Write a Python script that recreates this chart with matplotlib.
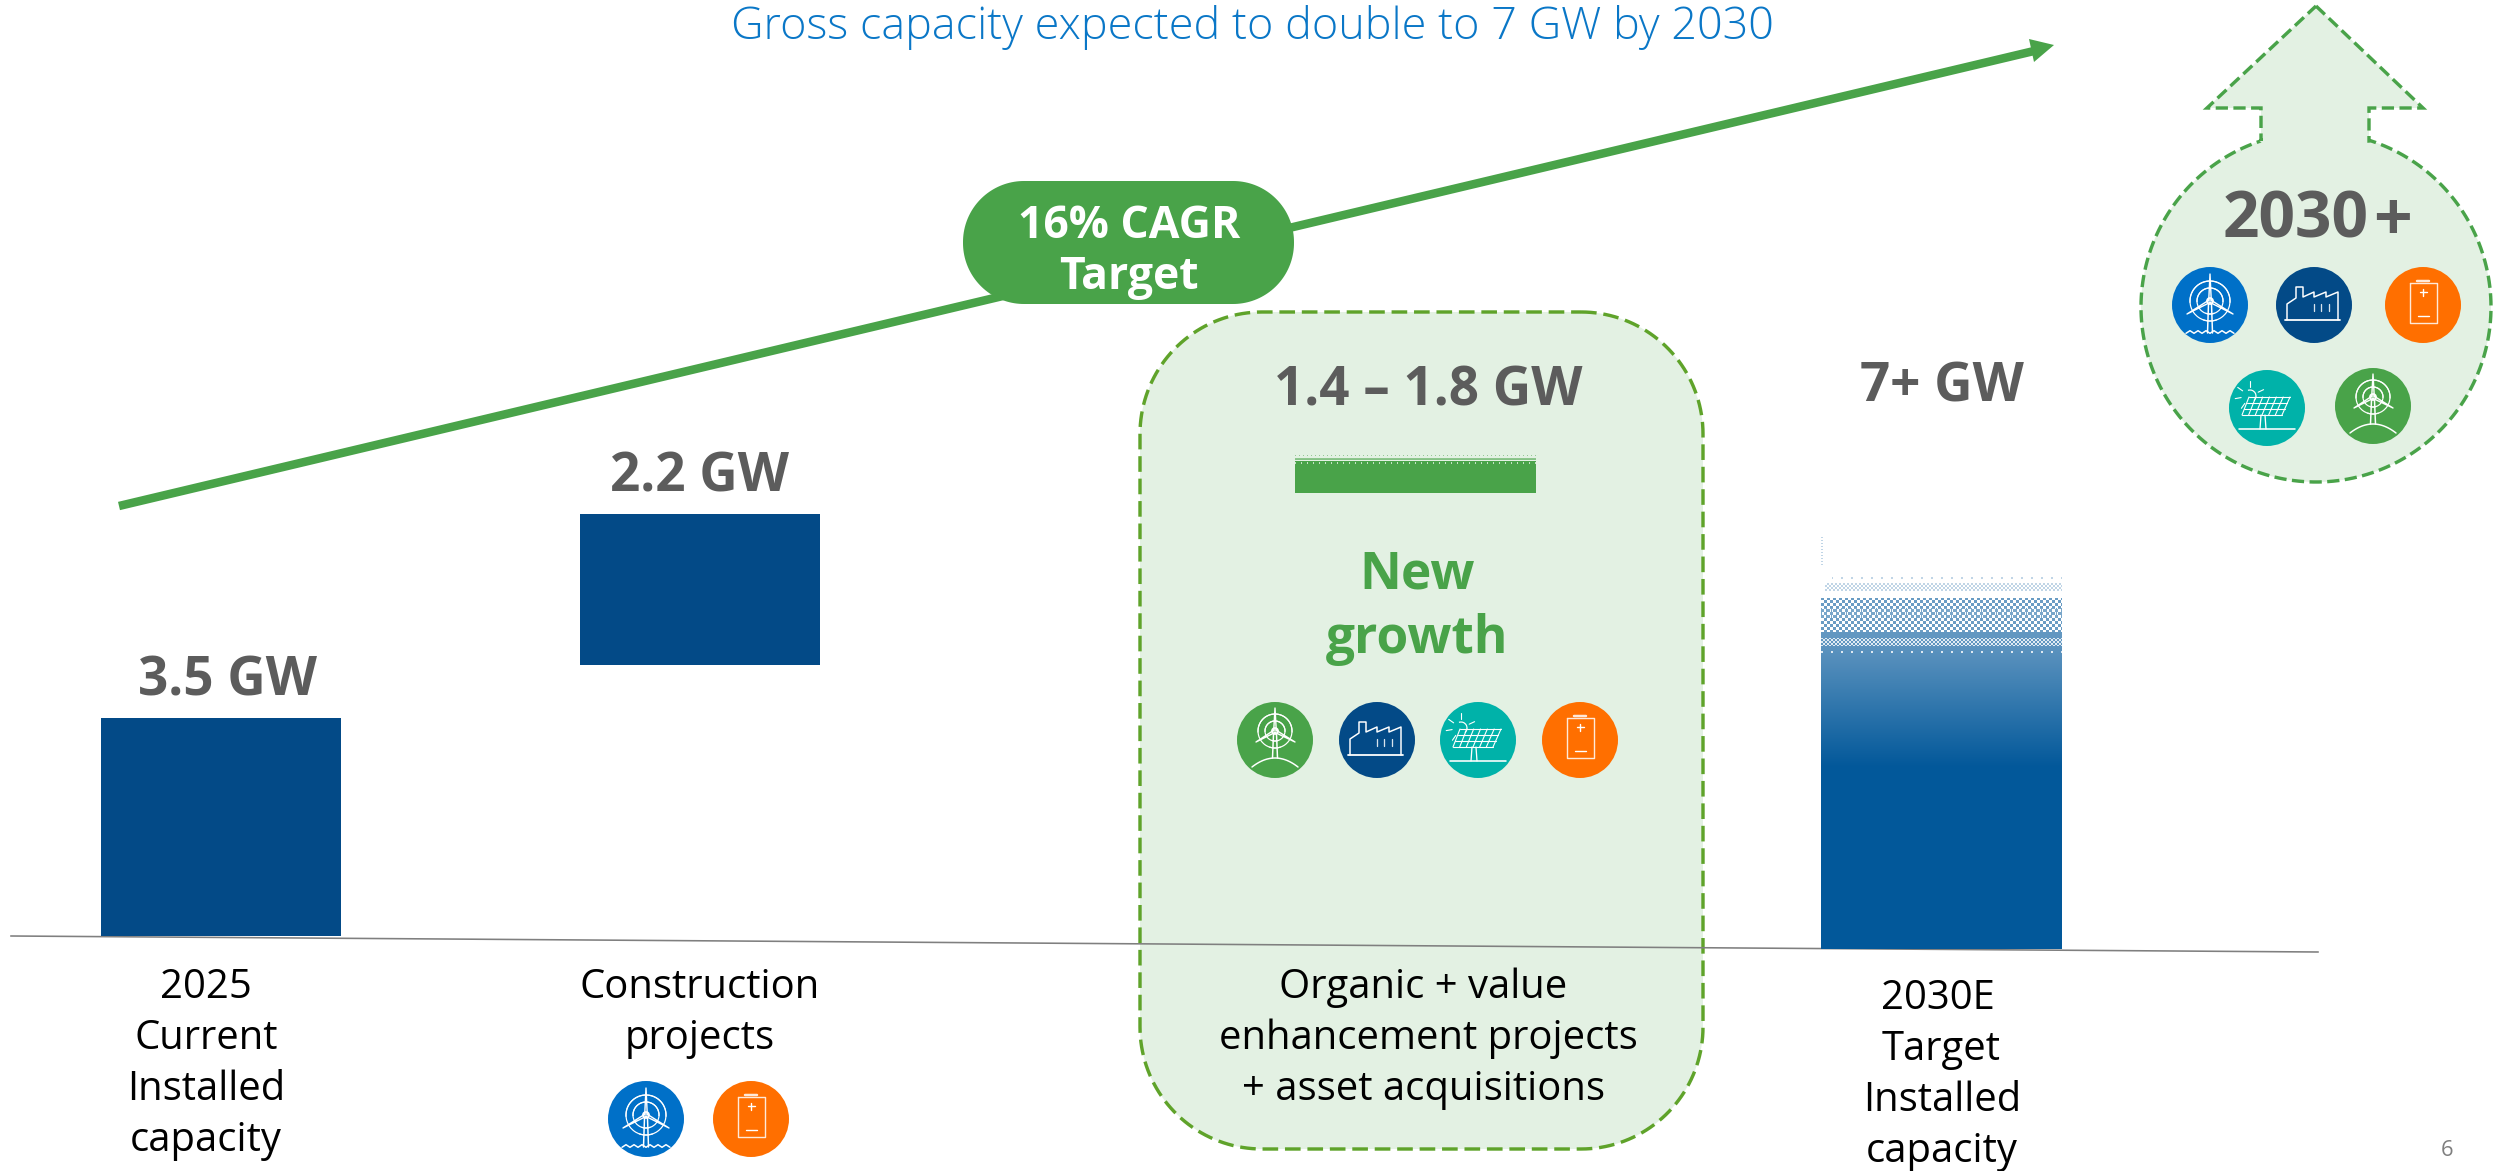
import numpy as np
import matplotlib
matplotlib.use("Agg")
import matplotlib.pyplot as plt
from matplotlib.patches import Circle, Polygon, Arc

# ---------- data ----------
bar_labels = ["3.5 GW", "2.2 GW", "1.4 – 1.8 GW", "7+ GW"]
bar_heights = [3.50, 2.42, 0.61, 6.61]     # height as drawn, GW-equivalent
bar_bottoms = [0.00, 4.35, 7.11, -0.21]    # floating start as drawn
categories = [["2025", "Current", "Installed", "capacity"],
              ["Construction", "projects"],
              ["Organic + value", "enhancement projects", "+ asset acquisitions"],
              ["2030E", "Target", "Installed", "capacity"]]
title = "Gross capacity expected to double to 7 GW by 2030"
cagr_text = ["16% CAGR", "Target"]
growth_text = ["New", "growth"]
future_text = "2030"
page_number = "6"

# ---------- style ----------
W, H = 2496, 1171
FONT = "Open Sans"
BLUE = "#034A87"; BAR4 = "#02589A"; GREEN = "#49A349"; PALE = "#E3F1E3"
GREY = "#5C5C5C"; OLIVE = "#5FA32A"
COL = dict(off="#0070C8", fac="#034A87", bat="#FF6F00", sol="#00B2A9", win="#49A349")
PX_PER_GW = 62.3
BASE_Y = 936

plt.rcParams["font.family"] = [FONT, "DejaVu Sans"]
fig = plt.figure(figsize=(W / 100, H / 100), dpi=100, facecolor="white")
px = fig.add_axes([0, 0, 1, 1]); px.set_xlim(0, W); px.set_ylim(H, 0); px.axis("off")
ax = fig.add_axes([0, 0, 1, 1], sharex=px)
ax.set_ylim((BASE_Y - H) / PX_PER_GW, BASE_Y / PX_PER_GW); ax.axis("off"); ax.patch.set_alpha(0)
pt = 0.72  # points per pixel


def T(x, y, s, size, color="black", weight="normal", **kw):
    return px.text(x, y, s, fontsize=size * pt, color=color, weight=weight,
                   ha=kw.pop("ha", "center"), va=kw.pop("va", "center"), **kw)


def rounded(x0, y0, x1, y1, r, n=40):
    pts = []
    for cx_, cy_, a0_ in [(x1 - r, y0 + r, -90), (x1 - r, y1 - r, 0), (x0 + r, y1 - r, 90), (x0 + r, y0 + r, 180)]:
        t = np.radians(np.linspace(a0_, a0_ + 90, n))
        pts.append(np.c_[cx_ + r * np.cos(t), cy_ + r * np.sin(t)])
    return np.vstack(pts)


# ---------- backdrop shapes ----------
px.add_patch(Polygon(rounded(1140, 312, 1703, 1149, 122), closed=True, fc=PALE, ec=OLIVE,
                     lw=3.4 * pt, ls=(0, (4.6, 2.0)), zorder=1))

cx, cy, R = 2316, 307, 175
a0 = np.arcsin(55 / R)
th = np.linspace(a0, 2 * np.pi - a0, 200)
shape = [(2316, 6), (2423, 108), (2369, 108), (2369, 141)] + \
        [tuple(p) for p in np.c_[cx + R * np.sin(th), cy - R * np.cos(th)]] + \
        [(2261, 141), (2261, 108), (2207, 108)]
px.add_patch(Polygon(shape, closed=True, fc=PALE, ec=GREEN, lw=3.4 * pt, ls=(0, (3.6, 1.6)), zorder=1))

# ---------- baseline and growth arrow ----------
px.plot([11, 2318], [936, 952], color="#7F7F7F", lw=1.6 * pt, zorder=6)
px.plot([119, 2034], [506, 51], color=GREEN, lw=8.5 * pt, solid_capstyle="butt", zorder=3)
px.add_patch(Polygon([(2054, 45), (2029, 39), (2034, 62)], closed=True, fc=GREEN, ec="none", zorder=3))
px.add_patch(Polygon(rounded(963, 181, 1294, 304, 61), closed=True, fc=GREEN, ec="none", zorder=4))
T(1129, 226, cagr_text[0], 44.5, "white", "bold", zorder=5)
T(1129, 277, cagr_text[1], 44.5, "white", "bold", zorder=5)

# ---------- bars ----------
bar_x0 = [101, 580, 1295, 1821]
bar_w = 241
ax.bar(bar_x0[:2], bar_heights[:2], width=bar_w - 1, bottom=bar_bottoms[:2], align="edge", color=BLUE, zorder=5)


def rgba(col, alpha, w, h):
    c = matplotlib.colors.to_rgb(col)
    im = np.zeros((h, w, 4)); im[..., :3] = c; im[..., 3] = alpha
    return im


# third bar: solid, top edge breaks up into dots
h3 = int(round(bar_heights[2] * PX_PER_GW))
im3 = rgba(GREEN, 1.0, bar_w, h3)
jj, ii = np.meshgrid(np.arange(bar_w), np.arange(h3))
im3[:8, :, 3] = 0
im3[1, :, 3] = (jj[1] % 4 == 0) * 0.5
im3[4, :, 3] = 0.55
im3[5, :, 3] = 0.6
im3[7, :, 3] = 1.0
im3[9, :, 3] = 1 - (jj[9] % 6 == 0) * 0.8
im3[8, :, 3] = 1 - (jj[8] % 6 == 0) * 0.8
ax.imshow(im3, extent=[bar_x0[2], bar_x0[2] + bar_w, bar_bottoms[2], bar_bottoms[2] + bar_heights[2]],
          origin="upper", aspect="auto", interpolation="nearest", zorder=5)

# fourth bar: solid at the foot, fades upward and breaks into a dither pattern
h4 = int(round(bar_heights[3] * PX_PER_GW)); top4 = BASE_Y - (bar_bottoms[3] + bar_heights[3]) * PX_PER_GW
im4 = rgba(BAR4, 1.0, bar_w, h4)
rows = top4 + np.arange(h4)
c_top = np.array(matplotlib.colors.to_rgb("#6297C1")); c_bot = np.array(matplotlib.colors.to_rgb(BAR4))
for i, y in enumerate(rows):
    t = np.clip((y - 640) / (767 - 640), 0, 1)
    im4[i, :, :3] = c_top * (1 - t) + c_bot * t
jj, ii = np.meshgrid(np.arange(bar_w), np.arange(h4))
Y = top4 + ii
coarse = ((ii // 3 + jj // 3) % 2 == 0)
fine = ((ii // 2 + jj // 2) % 2 == 0)
a = np.ones_like(Y, dtype=float)
a[Y < 640] = 0
m = (Y >= 598) & (Y < 632); a[m] = coarse[m] * 0.95
m = (Y >= 608) & (Y < 618); a[m] = (coarse[m] | (jj[m] % 5 == 0)) * 0.85
m = (Y >= 632) & (Y < 638); a[m] = 1
m = (Y >= 638) & (Y < 646); a[m] = 1 - fine[m] * 0.8
m = (Y >= 651) & (Y < 653); a[m] = 1 - (jj[m] % 10 < 2) * 0.8
m = (Y >= 583) & (Y < 591); a[m] = (fine[m] & (jj[m] > 3)) * 0.4
m = (Y >= 577) & (Y < 579); a[m] = ((jj[m] % 10 < 2) & (jj[m] > 10)) * 0.4
m = (Y < 565) & (jj < 2); a[m] = (ii[m] % 3 == 0) * 0.4
im4[..., 3] = a
ax.imshow(im4, extent=[bar_x0[3], bar_x0[3] + bar_w, bar_bottoms[3], bar_bottoms[3] + bar_heights[3]],
          origin="upper", aspect="auto", interpolation="nearest", zorder=5)
px.set_xlim(0, W); ax.set_ylim((BASE_Y - H) / PX_PER_GW, BASE_Y / PX_PER_GW)


# ---------- icons ----------
def L(x, y, xs, ys, lw=1.5, alpha=1.0):
    px.plot(np.array(xs) + x, np.array(ys) + y, color="white", lw=lw * pt, alpha=alpha,
            zorder=8, solid_capstyle="round", solid_joinstyle="round")


def turbine(x, y, hx, hy, top, lft, rgt, bot, r1, r2):
    for r in (r1, r2):
        px.add_patch(Arc((x + hx, y + hy), 2 * r, -2 * r, theta1=110, theta2=175, ec="white", lw=1.2 * pt, zorder=8))
        px.add_patch(Arc((x + hx, y + hy), 2 * r, -2 * r, theta1=5, theta2=70, ec="white", lw=1.2 * pt, zorder=8))
    for tip in (top, lft, rgt):
        d = np.array(tip) - (hx, hy); n = np.array([-d[1], d[0]]) / np.hypot(*d) * 1.3
        a_ = np.array([hx, hy]) + n; b_ = np.array([hx, hy]) - n
        L(x, y, [a_[0], tip[0], b_[0]], [a_[1], tip[1], b_[1]], 1.4)
    L(x, y, [hx - 1.5, hx - 2.5], [hy + 3, bot]); L(x, y, [hx + 1.5, hx + 2.5], [hy + 3, bot])
    px.add_patch(Circle((x + hx, y + hy), 3, fc="none", ec="white", lw=1.8 * pt, zorder=8))


def icon(kind, x, y):
    px.add_patch(Circle((x, y), 38, fc=COL[kind], ec="none", zorder=7))
    if kind == "off":
        turbine(x, y, 0, -4, (0, -31), (-23, 9), (23, 9), 28, 20, 13)
        xs = np.arange(-24, 25, 4)
        ys = 27 + np.array([1, -1] * 6 + [1]) * 1.3
        L(x, y, xs, ys, 1.5)
    elif kind == "win":
        turbine(x, y, 0, -9, (0, -32), (-19, 2), (20, 2), 18, 17, 10)
        t = np.linspace(-1, 1, 30)
        L(x, y, 23 * t, 18 + 9 * t ** 2, 1.5)
    elif kind == "fac":
        L(x, y, [-29, 26], [15, 15], 1.8)
        L(x, y, [-27, -27, -18, -18, -11, -11, 0, 0, 12, 12, 24, 24],
          [15, -1, -7, -18, -18, -8, -13, -8, -13, -8, -13, 15], 1.5)
        for tx in (0, 7, 15):
            L(x, y, [tx, tx], [-1, 6], 1.3, 0.85)
    elif kind == "bat":
        L(x, y, [-13, 14, 14, -13, -13], [-22, -22, 18, 18, -22], 1.4, 0.85)
        L(x, y, [-6, 6], [-24, -24], 2.5, 0.85)
        L(x, y, [-3.5, 3.5], [-13, -13], 1.4); L(x, y, [0, 0], [-16.5, -9.5], 1.4)
        L(x, y, [-5, 6], [11, 11], 1.4)
    elif kind == "sol":
        L(x, y, [-28, 28], [21, 21], 1.6)
        L(x, y, [-6, -7], [7, 21], 1.3); L(x, y, [-2, -1], [7, 21], 1.3)
        c = np.array([(-18, -11), (23, -11), (15, 7), (-25, 7)], float)
        for f in np.linspace(0, 1, 7):
            p = c[0] * (1 - f) + c[1] * f; q = c[3] * (1 - f) + c[2] * f
            L(x, y, [p[0], q[0]], [p[1], q[1]], 1.1)
        for f in np.linspace(0, 1, 4):
            p = c[0] * (1 - f) + c[3] * f; q = c[1] * (1 - f) + c[2] * f
            L(x, y, [p[0], q[0]], [p[1], q[1]], 1.1)
        px.add_patch(Arc((x - 17, y - 12), 12, -12, theta1=50, theta2=250, ec="white", lw=1.2 * pt, zorder=8))
        for th_ in (25, 90, 145, 190, 235):
            r = np.radians(th_)
            L(x - 17, y - 12, [9 * np.cos(r), 15 * np.cos(r)], [-9 * np.sin(r), -15 * np.sin(r)], 1.1)


for k, ix, iy in [("off", 2210, 305), ("fac", 2314, 305), ("bat", 2423, 305),
                  ("sol", 2267, 408), ("win", 2373, 406),
                  ("win", 1275, 740), ("fac", 1377, 740), ("sol", 1478, 740), ("bat", 1580, 740),
                  ("off", 646, 1119), ("bat", 751, 1119)]:
    icon(k, ix, iy)

# ---------- text ----------
T(1252, 27, title, 45, "#0A77C7", "light", zorder=9)
value_pos = [(228, 682), (700, 478), (1428, 391), (1942, 388)]
for s, (x, y) in zip(bar_labels, value_pos):
    T(x, y, s, 53, GREY, "bold", zorder=9)
T(2296, 221, future_text, 64, GREY, "bold", zorder=9)
T(2392, 223, "+", 68, GREY, "bold", zorder=9)
T(1417, 575, growth_text[0], 51.5, GREEN, "bold", zorder=9)
T(1417, 640, growth_text[1], 51.5, GREEN, "bold", zorder=9)
label_x = [[206] * 4, [700, 700], [1423, 1428, 1423], [1938, 1941, 1942, 1942]]
label_y0 = [988, 988, 988, 999]
for lines, xs, y0 in zip(categories, label_x, label_y0):
    for n, (s, x) in enumerate(zip(lines, xs)):
        T(x, y0 + 51 * n, s, 40, "black", zorder=9)
T(2447, 1151, page_number, 22, "#7F7F7F", zorder=9)

fig.savefig("out.png", dpi=100, facecolor="white")
